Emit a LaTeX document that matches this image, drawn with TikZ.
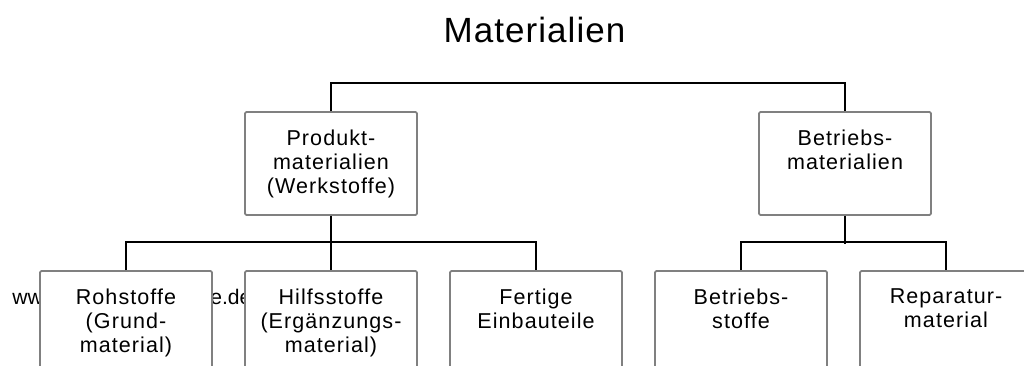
\documentclass[tikz,border=0pt]{standalone}
\usepackage{fontspec}
\setmainfont{Liberation Sans}
\newfontfamily\boxfont[LetterSpace=5]{Liberation Sans}
\newfontfamily\titlefont[LetterSpace=3]{Liberation Sans}
\begin{document}
\begin{tikzpicture}[x=0.025cm, y=-0.025cm,
  mat/.style={draw=gray, fill=white, line width=1.3pt, rounded corners=1pt,
    minimum width=4.3cm, minimum height=2.575cm, inner sep=0pt},
  every label/.style={align=center, inner sep=0pt, text=black,
    font=\boxfont\fontsize{15.3pt}{17pt}\selectfont},
  tree/.style={line width=1.5pt}]

\useasboundingbox (0,0) rectangle (1024,366);
\clip (0,0) rectangle (1024,366);

% Title
\node (Mat) at (534.5,43) [anchor=base, inner sep=0pt, font=\titlefont\fontsize{24.9pt}{30pt}\selectfont] {Materialien};

% Watermark (mostly hidden by the boxes)
\node (WmA) at (12,304) [anchor=base west, inner sep=0pt, font=\fontsize{15pt}{18pt}\selectfont] {ww};
\node (WmB) at (210,304) [anchor=base west, inner sep=0pt, font=\fontsize{15pt}{18pt}\selectfont] {e.de};

% Nodes (second row)
\node (Prod) at (331,163.5) [mat, label={[anchor=north, yshift=-13.2pt]north:Produkt-\\materialien\\(Werkstoffe)}] {};
\node (Betr) at (845,163.5) [mat, label={[anchor=north, yshift=-13.2pt]north:Betriebs-\\materialien}] {};

% Nodes (bottom row)
\node (Roh)  at (126,322.5) [mat, label={[anchor=north, yshift=-13.2pt]north:Rohstoffe\\(Grund-\\material)}] {};
\node (Hilf) at (331,322.5) [mat, label={[anchor=north, yshift=-13.2pt]north:Hilfsstoffe\\(Ergänzungs-\\material)}] {};
\node (Fert) at (536,322.5) [mat, label={[anchor=north, yshift=-13.2pt]north:Fertige\\Einbauteile}] {};
\node (Bst)  at (741,322.5) [mat, label={[anchor=north, yshift=-13.2pt]north:Betriebs-\\stoffe}] {};
\node (Rep)  at (946,322.5) [mat, label={[anchor=north, yshift=-13.2pt]north:Reparatur-\\material}] {};

% Top branch
\draw[tree] (Prod.north) -- ++(0,-28) -| (Betr.north);

% Branch below Produktmaterialien
\draw[tree] (Prod.south) -- (Hilf.north);
\draw[tree] (Roh.north) -- ++(0,-28) -| (Fert.north);

% Branch below Betriebsmaterialien
\draw[tree] (Betr.south) -- ++(0,28);
\draw[tree] (Bst.north) -- ++(0,-28) -| (Rep.north);

\end{tikzpicture}
\end{document}
